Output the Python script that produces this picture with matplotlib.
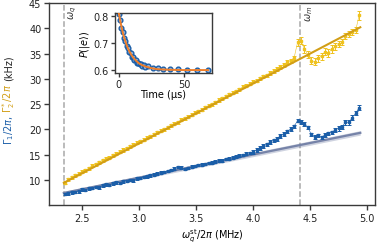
import matplotlib
matplotlib.use("Agg")
import matplotlib.pyplot as plt

# ---- main panel data: drive frequency sweep (MHz) ----
freq = [2.35, 2.38, 2.41, 2.44, 2.47, 2.50, 2.53, 2.56, 2.59, 2.62,
        2.65, 2.68, 2.71, 2.74, 2.77, 2.80, 2.83, 2.86, 2.89, 2.92,
        2.95, 2.98, 3.01, 3.04, 3.07, 3.10, 3.13, 3.16, 3.19, 3.22,
        3.25, 3.28, 3.31, 3.34, 3.37, 3.40, 3.43, 3.46, 3.49, 3.52,
        3.55, 3.58, 3.61, 3.64, 3.67, 3.70, 3.73, 3.76, 3.79, 3.82,
        3.85, 3.88, 3.91, 3.94, 3.97, 4.00, 4.03, 4.06, 4.09, 4.12,
        4.15, 4.18, 4.21, 4.24, 4.27, 4.30, 4.33, 4.36, 4.39, 4.42,
        4.45, 4.48, 4.51, 4.54, 4.57, 4.60, 4.63, 4.66, 4.69, 4.72,
        4.75, 4.78, 4.81, 4.84, 4.87, 4.90, 4.93]

# Gamma_2* / 2pi (kHz)
gamma2 = [9.4, 10.1, 10.5, 10.9, 11.2, 11.6, 11.9, 12.3, 12.8, 13.1,
          13.5, 13.9, 14.2, 14.4, 14.9, 15.2, 15.6, 15.9, 16.2, 16.6,
          16.9, 17.3, 17.6, 17.9, 18.3, 18.6, 19.0, 19.4, 19.7, 20.0,
          20.4, 20.8, 21.1, 21.4, 21.9, 22.2, 22.5, 22.9, 23.3, 23.6,
          23.9, 24.4, 24.7, 25.0, 25.4, 25.8, 26.1, 26.5, 26.9, 27.2,
          27.5, 27.9, 28.4, 28.6, 29.0, 29.4, 29.6, 30.1, 30.5, 30.7,
          31.2, 31.6, 31.9, 32.4, 32.8, 33.3, 33.6, 34.2, 37.2, 37.5,
          35.9, 34.8, 33.6, 33.4, 34.1, 34.5, 35.4, 35.1, 35.9, 36.4,
          36.8, 37.2, 38.4, 38.9, 39.2, 39.6, 42.6]
gamma2_err = [0.3] * 60 + [0.4] * 8 + [0.7] * 12 + [0.6] * 6 + [0.9]

# Gamma_1 / 2pi (kHz)
gamma1 = [7.2, 7.3, 7.5, 7.6, 7.7, 8.1, 8.0, 8.3, 8.4, 8.6,
          8.5, 8.9, 9.1, 9.0, 9.3, 9.5, 9.4, 9.7, 9.8, 10.0,
          9.9, 10.3, 10.4, 10.6, 10.7, 10.9, 11.0, 11.2, 11.4, 11.5,
          11.7, 11.9, 12.2, 12.5, 12.4, 12.1, 12.3, 12.6, 12.7, 12.9,
          13.0, 13.1, 13.3, 13.4, 13.6, 13.8, 13.8, 14.1, 14.2, 14.4,
          14.6, 14.8, 14.9, 15.2, 15.3, 15.5, 15.9, 16.3, 16.7, 17.0,
          17.5, 17.8, 18.1, 18.7, 19.1, 19.6, 20.1, 20.6, 21.7, 21.4,
          21.1, 20.4, 19.0, 18.5, 18.8, 18.4, 18.9, 19.2, 19.4, 19.9,
          20.2, 20.5, 21.4, 21.4, 22.3, 23.2, 24.3]
gamma1_err = [0.25] * 55 + [0.35] * 25 + [0.45] * 7

# linear fits
fit_x = [2.34, 4.94]
fit_gamma2 = [9.4, 40.2]
fit_gamma1 = [7.4, 19.3]
fit_gamma1_band = [0.35, 0.45]

# reference frequencies (MHz)
omega_q = 2.34
omega_m = 4.41

# ---- inset data: T1 decay ----
t_us = [0, 1, 2, 3, 4, 5, 6, 7, 8, 9, 10, 11, 12, 13, 14, 15, 16, 17, 18,
        19, 20, 22.5, 26, 30, 34, 39, 45.5, 52, 60, 68.5]
p_e = [0.808, 0.786, 0.757, 0.742, 0.718, 0.709, 0.689, 0.683, 0.667,
       0.664, 0.650, 0.649, 0.638, 0.637, 0.628, 0.628, 0.621, 0.622,
       0.615, 0.617, 0.611, 0.614, 0.607, 0.606, 0.604, 0.604, 0.604,
       0.601, 0.602, 0.601]
fit_t = [0, 1, 2, 3, 4, 5, 6, 7, 8, 10, 12, 14, 16, 18, 20, 25, 30, 40,
         50, 60, 68.5]
fit_p = [0.810, 0.783, 0.760, 0.739, 0.721, 0.706, 0.692, 0.680, 0.670,
         0.653, 0.641, 0.631, 0.623, 0.618, 0.614, 0.607, 0.603, 0.601,
         0.600, 0.600, 0.600]

blue = "#1b5ea8"
yellow = "#efc21e"
gold = "#d29e16"
slate = "#7683a8"
spine_col = "#3a3a3a"

plt.rcParams["font.size"] = 7
plt.rcParams["axes.edgecolor"] = spine_col
plt.rcParams["axes.linewidth"] = 1.0
plt.rcParams["xtick.color"] = spine_col
plt.rcParams["ytick.color"] = spine_col
plt.rcParams["xtick.labelcolor"] = "#222222"
plt.rcParams["ytick.labelcolor"] = "#222222"

fig = plt.figure(figsize=(3.77, 2.51), dpi=100)
ax = fig.add_axes([0.130, 0.179, 0.865, 0.805])

# dashed markers for qubit / mode frequency
ax.axvline(omega_q, color="#a8a8a8", ls="--", lw=1.1, zorder=1)
ax.axvline(omega_m, color="#a8a8a8", ls="--", lw=1.1, zorder=1)
ax.text(omega_q + 0.025, 44.6, r"$\omega_q$", rotation=90, ha="left", va="top",
        fontsize=7, color="#333333")
ax.text(omega_m + 0.025, 44.6, r"$\omega_m$", rotation=90, ha="left", va="top",
        fontsize=7, color="#333333")

# Gamma_1 fit with band
band_lo = [fit_gamma1[0] - fit_gamma1_band[0], fit_gamma1[1] - fit_gamma1_band[1]]
band_hi = [fit_gamma1[0] + fit_gamma1_band[0], fit_gamma1[1] + fit_gamma1_band[1]]
ax.fill_between(fit_x, band_lo, band_hi, color=slate, alpha=0.35, lw=0, zorder=2)
ax.plot(fit_x, fit_gamma1, color=slate, lw=1.6, zorder=2)

# data
ax.errorbar(freq, gamma2, yerr=gamma2_err, fmt="-s", color=yellow, ms=1.7,
            lw=0.4, elinewidth=0.7, capsize=1.3, capthick=0.7, zorder=3)
ax.errorbar(freq, gamma1, yerr=gamma1_err, fmt="-s", color=blue, ms=1.7,
            lw=0.4, elinewidth=0.7, capsize=1.3, capthick=0.7, zorder=3)

# Gamma_2* fit
ax.plot(fit_x, fit_gamma2, color=gold, lw=1.5, zorder=4)

ax.set_xlim(2.21, 5.07)
ax.set_ylim(5, 45)
ax.set_xticks([2.5, 3.0, 3.5, 4.0, 4.5, 5.0])
ax.set_yticks([10, 15, 20, 25, 30, 35, 40, 45])
ax.tick_params(direction="out", length=3.5, width=1.0, pad=2)
ax.set_xlabel(r"$\omega_q^{\rm st}/2\pi$ (MHz)", fontsize=7, labelpad=3)

# multi-coloured y label, stacked bottom to top
parts = [(r"$\Gamma_1/2\pi$,", blue), (r"$\Gamma_2^*/2\pi$", gold), ("(kHz)", "#222222")]
fig.canvas.draw()
renderer = fig.canvas.get_renderer()
texts = []
for s, c in parts:
    texts.append(fig.text(0.024, 0.5, s, color=c, rotation=90, fontsize=7,
                          ha="center", va="bottom"))
gap = 3.0
heights = [t.get_window_extent(renderer).height for t in texts]
total = sum(heights) + gap * (len(texts) - 1)
y_center = fig.bbox.height * (1 - 100 / 251)
y = y_center - total / 2
for t, h in zip(texts, heights):
    t.set_position((0.024, y / fig.bbox.height))
    y += h + gap

# ---- inset ----
ins = fig.add_axes([0.305, 0.705, 0.257, 0.239])
ins.plot(t_us, p_e, "o", mfc="#8fb0d8", mec=blue, mew=1.0, ms=3.4, zorder=2)
ins.plot(fit_t, fit_p, color="#f07f2a", lw=1.4, zorder=3)
ins.set_xlim(-3, 71.5)
ins.set_ylim(0.589, 0.811)
ins.set_xticks([0, 50])
ins.set_yticks([0.6, 0.7, 0.8])
ins.tick_params(direction="out", length=3, width=1.0, pad=1.5, labelsize=7)
ins.set_xlabel("Time (µs)", fontsize=7, labelpad=0)
ins.set_ylabel(r"$P(|e\rangle)$", fontsize=7, labelpad=1)

fig.savefig("out.png", dpi=100)
